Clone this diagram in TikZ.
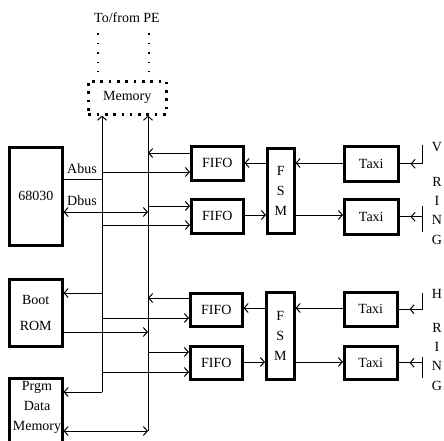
\documentclass[tikz,border=0pt]{standalone}
\usepackage{fontspec}
\setmainfont{Liberation Serif}
\usetikzlibrary{arrows.meta}
\begin{document}
\begin{tikzpicture}[x=1pt,y=-1pt,
  txt/.style={font=\fontsize{14}{16}\selectfont, inner sep=0pt},
  box/.style={draw, line width=2.5pt, inner sep=0pt, anchor=north west, font=\fontsize{14}{16}\selectfont},
  conn/.style={line width=1pt},
  arr/.style={conn, -{Straight Barb[length=4pt,width=9pt,line width=1pt]}},
  arrb/.style={conn, {Straight Barb[length=4pt,width=9pt,line width=1pt]}-{Straight Barb[length=4pt,width=9pt,line width=1pt]}},
  dotbox/.style={draw, line width=2.6pt, dash pattern=on 2.6pt off 5.7pt, inner sep=0pt, anchor=north west, font=\fontsize{14}{16}\selectfont},
  dotline/.style={line width=1.6pt, dash pattern=on 1.6pt off 8pt}
]
\useasboundingbox (0,0) rectangle (444,441);

% top
\node[txt] (pe) at (127,18) {To/from PE};
\node[dotbox, minimum width=78pt, minimum height=33pt] (mem) at (87,80) {Memory};
\coordinate (pe1a) at (98,33);
\coordinate (pe1b) at (98,72);
\coordinate (pe2a) at (149,33);
\coordinate (pe2b) at (149,72);
\draw[dotline] (pe1a) -- (pe1b);
\draw[dotline] (pe2a) -- (pe2b);

% left column
\node[box, minimum width=53pt, minimum height=98pt] (cpu) at (8,146) {68030};
\node[box, minimum width=53pt, minimum height=67pt, align=center, font=\fontsize{14}{26}\selectfont] (boot) at (8,278) {Boot\\ROM};
\node[box, minimum width=53pt, minimum height=80pt] (prgm) at (8,377) {};
\node[txt, align=center, font=\fontsize{14}{20}\selectfont] (prgmtxt) at (37,407) {Prgm\\Data\\Memory};

% FIFOs
\node[box, minimum width=52pt, minimum height=34pt] (fifo1) at (190,145) {FIFO};
\node[box, minimum width=52pt, minimum height=34pt] (fifo2) at (190,198) {FIFO};
\node[box, minimum width=52pt, minimum height=33pt] (fifo3) at (189,292) {FIFO};
\node[box, minimum width=52pt, minimum height=33pt] (fifo4) at (189,345) {FIFO};

% FSMs
\node[box, minimum width=27pt, minimum height=85pt, align=center, font=\fontsize{14}{20}\selectfont] (fsm1) at (266,147) {F\\S\\M};
\node[box, minimum width=28pt, minimum height=87pt, align=center, font=\fontsize{14}{20}\selectfont] (fsm2) at (265,291) {F\\S\\M};

% Taxis
\node[box, minimum width=54pt, minimum height=35pt] (taxi1) at (343,145) {Taxi};
\node[box, minimum width=54pt, minimum height=35pt] (taxi2) at (343,198) {Taxi};
\node[box, minimum width=53pt, minimum height=34pt] (taxi3) at (343,291) {Taxi};
\node[box, minimum width=53pt, minimum height=33pt] (taxi4) at (343,345) {Taxi};

% ring labels
\node[txt] (v1) at (437,147) {V};
\node[txt] (v2) at (437,182) {R};
\node[txt] (v3) at (437,201) {I};
\node[txt] (v4) at (437,220) {N};
\node[txt] (v5) at (437,240) {G};
\node[txt] (h1) at (437,294) {H};
\node[txt] (h2) at (437,328) {R};
\node[txt] (h3) at (437,347) {I};
\node[txt] (h4) at (437,366) {N};
\node[txt] (h5) at (437,386) {G};

% bus labels
\node[txt] (abl) at (82,169) {Abus};
\node[txt] (dbl) at (82,201) {Dbus};

% buses
\coordinate (abbot) at (102,392);
\coordinate (dbbot) at (148,431);
\draw[arr] (abbot) -- (abbot |- mem.south);
\draw[arr] (dbbot) -- (dbbot |- mem.south);

% CPU connections
\draw[conn] (cpu.east |- 0,179) -- (abbot |- 0,179);
\draw[arrb] (cpu.east |- 0,212) -- (dbbot |- 0,212);

% upper FIFOs
\draw[arr] (fifo1.west |- 0,153) -- (dbbot |- 0,153);
\draw[arr] (abbot |- 0,172) -- (fifo1.west |- 0,172);
\draw[arr] (dbbot |- 0,206) -- (fifo2.west |- 0,206);
\draw[arr] (abbot |- 0,225) -- (fifo2.west |- 0,225);
\draw[arr] (fsm1.west |- 0,163) -- (fifo1.east |- 0,163);
\draw[arr] (fifo2.east |- 0,215) -- (fsm1.west |- 0,215);
\draw[arr] (taxi1.west |- 0,163) -- (fsm1.east |- 0,163);
\draw[arr] (fsm1.east |- 0,215) -- (taxi2.west |- 0,215);

% Boot ROM
\draw[arr] (abbot |- 0,293) -- (boot.east |- 0,293);
\draw[arr] (boot.east |- 0,332) -- (dbbot |- 0,332);

% lower FIFOs
\draw[arr] (fifo3.west |- 0,298) -- (dbbot |- 0,298);
\draw[arr] (abbot |- 0,318) -- (fifo3.west |- 0,318);
\draw[arr] (dbbot |- 0,352) -- (fifo4.west |- 0,352);
\draw[arr] (abbot |- 0,372) -- (fifo4.west |- 0,372);
\draw[arr] (fsm2.west |- 0,308) -- (fifo3.east |- 0,308);
\draw[arr] (fifo4.east |- 0,362) -- (fsm2.west |- 0,362);
\draw[arr] (taxi3.west |- 0,308) -- (fsm2.east |- 0,308);
\draw[arr] (fsm2.east |- 0,362) -- (taxi4.west |- 0,362);

% Prgm memory
\draw[arr] (abbot) -- (prgm.east |- abbot);
\draw[arrb] (prgm.east |- dbbot) -- (dbbot);

% ring inputs
\coordinate (r1) at (422,145);
\coordinate (r2a) at (422,206);
\coordinate (r2b) at (422,232);
\coordinate (r3) at (422,293);
\coordinate (r4a) at (422,357);
\coordinate (r4b) at (422,378);
\coordinate (t1) at ([xshift=11pt]taxi1.east);
\coordinate (t2) at ([xshift=11pt]taxi2.east);
\coordinate (t3) at ([xshift=11pt]taxi3.east);
\coordinate (t4) at ([xshift=11pt]taxi4.east);

\draw[arr] (r1) |- (t1);
\draw[conn] (t1) -- (taxi1.east);
\draw[conn] (r2a) -- (r2b);
\draw[arr] (r2a |- taxi2.east) -- (t2);
\draw[conn] (t2) -- (taxi2.east);
\draw[arr] (r3) |- (t3);
\draw[conn] (t3) -- (taxi3.east);
\draw[conn] (r4a) -- (r4b);
\draw[arr] (r4a |- taxi4.east) -- (t4);
\draw[conn] (t4) -- (taxi4.east);
\end{tikzpicture}
\end{document}
